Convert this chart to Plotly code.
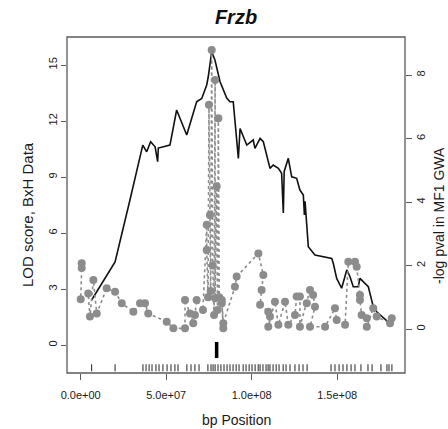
import plotly.graph_objects as go

# ---------------- data ----------------
# LOD scores (BxH cross), marker position in Mb
lod_pos_mb = [6.4, 20.1, 28.8, 36.3, 38.6, 40.9, 43.5, 45.0, 45.4, 49.3, 52.2, 56.1, 62.0,
              67.8, 70.8, 73.7, 74.6, 76.6, 78.5, 81.5, 85.4, 87.3, 89.2, 92.2, 93.2, 97.1,
              100.9, 101.9, 104.9, 106.8, 110.7, 112.6, 115.6, 117.5, 118.5, 119.0, 121.4,
              123.4, 126.3, 128.2, 130.2, 130.8, 131.2, 133.1, 137.0, 146.8, 147.7, 149.7,
              152.6, 155.6, 157.5, 159.4, 162.3, 163.3, 168.2, 171.1, 173.1, 181.9]
lod_vals = [2.41, 4.45, 7.77, 10.71, 10.35, 10.89, 10.62, 9.82, 10.55, 10.66, 10.71, 12.59, 11.25,
            13.03, 13.21, 13.93, 14.37, 15.71, 15.27, 14.10, 13.23, 13.03, 13.03, 10.0, 11.6, 10.71,
            10.98, 10.53, 11.07, 10.89, 9.46, 9.64, 9.46, 9.2, 7.07, 9.3, 10.0,
            9.01, 8.93, 8.30, 8.03, 6.96, 7.7, 5.27, 4.82, 4.64, 4.38, 3.57,
            3.04, 4.02, 3.66, 3.12, 3.12, 3.57, 3.12, 2.05, 1.78, 1.07]

# -log10 p-values in MF1 GWA, SNP position in Mb (in plotting order)
gwa_pos_mb = [0.6, 0.6, 0.0, 4.4, 5.4, 7.4, 9.4, 15.2, 20.1, 24.0, 30.8, 34.7, 37.6, 39.5,
              50.3, 54.2, 61.0, 61.0, 63.9, 65.8, 66.8, 67.8,
              71.5, 73.7, 73.7, 74.5, 75.0, 75.6, 76.0, 76.6, 77.2, 78.0, 78.6, 78.6, 79.5,
              80.0, 80.5, 81.0, 82.5, 83.4, 82.5, 83.4,
              90.2, 91.2, 103.9, 106.8, 105.8, 104.9, 109.7, 110.7, 109.7, 113.6, 115.6,
              119.5, 121.4, 125.3, 126.3, 128.2, 128.2, 132.2, 134.1, 135.9, 137.0, 134.1,
              142.9, 148.7, 149.7, 154.6, 156.5, 160.4, 161.4, 163.3, 163.3, 164.3, 167.3,
              167.3, 171.1, 173.1, 180.9, 181.9]
gwa_logp = [2.07, 1.92, 0.94, 1.12, 0.39, 1.54, 0.49, 1.28, 1.17, 0.81, 0.54, 0.81, 0.81, 0.49,
            0.23, 0.02, 0.02, 0.91, 0.49, 0.18, 0.44, 0.91,
            0.6, 3.28, 2.49, 1.0, 7.06, 3.59, 1.2, 8.79, 2.0, 0.44, 7.84, 0.97, 4.5,
            0.6, 6.64, 1.0, 0.81, 0.02, 0.91, 0.18,
            1.33, 1.65, 2.38, 1.70, 1.23, 0.76, 0.54, 0.39, 0.07, 0.86, 0.13,
            0.86, 0.13, 0.44, 1.02, 1.02, 0.07, 0.81, 1.23, 1.07, 0.70, 0.07,
            0.07, 0.65, 0.28, 0.13, 2.12, 2.12, 1.96, 1.07, 0.91, 0.44, 0.34,
            0.07, 0.65, 0.39, 0.18, 0.34]

# genotyped marker positions (rug), Mb
rug_pos_mb = [6.4, 20.1, 36.4, 38.2, 40.0, 41.7, 44.0, 45.8, 48.1, 50.5, 52.8, 55.1, 56.9,
              62.1, 64.5, 66.8, 69.2, 74.4, 76.2, 77.4, 78.6, 80.3, 82.0, 83.8, 85.6, 87.3,
              89.1, 90.9, 92.6, 95.0, 96.7, 98.5, 100.2, 102.0, 103.8, 104.9, 106.6, 108.4,
              109.6, 110.7, 112.5, 114.3, 116.0, 118.4, 120.1, 122.4, 125.3, 127.7, 130.0,
              132.4, 146.4, 148.7, 151.1, 153.4, 155.7, 158.1, 160.4, 163.9, 168.0, 170.4,
              175.6, 179.1, 180.3, 182.0]

gene_name = "Frzb"
gene_pos_mb = 79.5

x_tick_vals = [0, 5e7, 1e8, 1.5e8]
x_tick_text = ["0.0e+00", "5.0e+07", "1.0e+08", "1.5e+08"]
lod_ticks = [0, 3, 6, 9, 12, 15]
gwa_ticks = [0, 2, 4, 6, 8]

MB = 1e6
FONT = "Liberation Sans, Arial, Helvetica, sans-serif"
AXC = "#5a5a5a"
TXT = "#1a1a1a"
GREY = "#8c8c8c"

fig = go.Figure()

# GWA dotted line with points (right axis)
fig.add_trace(go.Scatter(
    x=[p * MB for p in gwa_pos_mb], y=gwa_logp, yaxis="y2", mode="lines+markers",
    line=dict(color=GREY, width=1.6, dash="dot"),
    marker=dict(color=GREY, size=8, line=dict(width=0)),
    showlegend=False, hoverinfo="skip"))

# LOD line (left axis)
fig.add_trace(go.Scatter(
    x=[p * MB for p in lod_pos_mb], y=lod_vals, mode="lines",
    line=dict(color="#111111", width=1.6),
    showlegend=False, hoverinfo="skip"))

# rug of marker positions
fig.add_trace(go.Scatter(
    x=[p * MB for p in rug_pos_mb], y=[-1.22] * len(rug_pos_mb), mode="markers",
    marker=dict(symbol="line-ns", size=5, line=dict(color="#222222", width=1)),
    showlegend=False, hoverinfo="skip"))

# gene location bar
fig.add_trace(go.Scatter(
    x=[gene_pos_mb * MB, gene_pos_mb * MB], y=[0.16, -0.7], mode="lines",
    line=dict(color="#000000", width=3.5),
    showlegend=False, hoverinfo="skip"))

L, R, T, B = 67, 43, 37, 56
W, H = 448, 429
pw, ph = W - L - R, H - T - B

fig.update_layout(
    width=W, height=H, autosize=False,
    margin=dict(l=L, r=R, t=T, b=B, pad=0, autoexpand=False),
    paper_bgcolor="white", plot_bgcolor="white",
    font=dict(family=FONT, color=TXT),
    title=dict(text="<b><i>" + gene_name + "</i></b>", x=236 / W, xref="container",
               xanchor="center", y=1 - 17 / H, yref="container", yanchor="middle",
               font=dict(size=20, family=FONT, color="#111111")),
    xaxis=dict(range=[-8.01e6, 1.8965e8], tickvals=x_tick_vals, ticktext=x_tick_text,
               showgrid=False, zeroline=False, showline=False, automargin=False,
               ticks="outside", ticklen=6, tickwidth=1, tickcolor=AXC,
               tickfont=dict(size=11, color=TXT), ticklabelstandoff=6),
    yaxis=dict(range=[-1.5, 16.5], tickvals=lod_ticks, showgrid=False, zeroline=False,
               showline=False, automargin=False, ticks="outside", ticklen=5, tickwidth=1,
               tickcolor=AXC, tickangle=-90, tickfont=dict(size=11, color=TXT)),
    yaxis2=dict(range=[-1.386, 9.197], tickvals=gwa_ticks, overlaying="y", side="right",
                showgrid=False, zeroline=False, showline=False, automargin=False,
                ticks="outside", ticklen=6, tickwidth=1, tickcolor=AXC, tickangle=-90,
                tickfont=dict(size=11, color=TXT)),
    shapes=[dict(type="rect", xref="paper", yref="paper", x0=0, x1=1, y0=0, y1=1,
                 line=dict(color=AXC, width=1.3), fillcolor="rgba(0,0,0,0)", layer="above")],
    annotations=[
        dict(text="LOD score, BxH Data", xref="paper", yref="paper",
             x=(27 - L) / pw, y=(H - B - 215) / ph, textangle=-90, showarrow=False,
             xanchor="center", yanchor="middle", font=dict(size=15, color=TXT)),
        dict(text="-log pval in MF1 GWA", xref="paper", yref="paper",
             x=(439 - L) / pw, y=(H - B - 216) / ph, textangle=-90, showarrow=False,
             xanchor="center", yanchor="middle", font=dict(size=14, color=TXT)),
        dict(text="bp Position", xref="paper", yref="paper",
             x=(236 - L) / pw, y=(H - B - 420) / ph, showarrow=False,
             xanchor="center", yanchor="middle", font=dict(size=14, color=TXT)),
    ],
)

fig.write_html("out.html")
